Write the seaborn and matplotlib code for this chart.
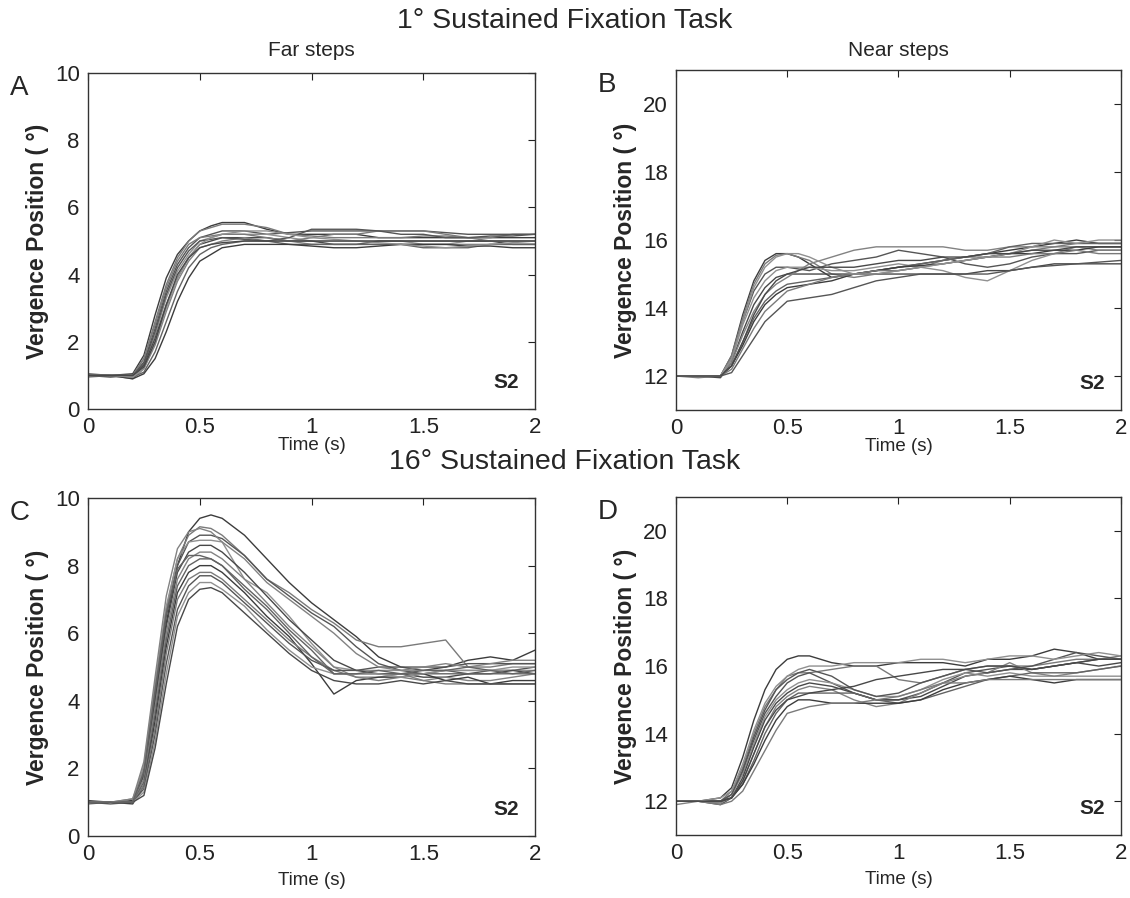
import pandas as pd
import seaborn as sns
import matplotlib.pyplot as plt

# time samples (s) used for every trace
time_s = [0, 0.1, 0.2, 0.25, 0.3, 0.35, 0.4, 0.45, 0.5, 0.55, 0.6, 0.7, 0.8, 0.9,
          1.0, 1.1, 1.2, 1.3, 1.4, 1.5, 1.6, 1.7, 1.8, 1.9, 2.0]

# A: 1 deg task, far steps
far_1deg = [
    [1.0, 1.0, 1.05, 1.6, 2.8, 3.9, 4.6, 5.0, 5.3, 5.45, 5.55, 5.55, 5.35, 5.2, 5.2, 5.2, 5.2, 5.1, 5.1, 5.1, 5.1, 5.1, 5.1, 5.1, 5.1],
    [1.0, 1.0, 1.0, 1.5, 2.6, 3.7, 4.5, 5.0, 5.3, 5.4, 5.5, 5.5, 5.4, 5.2, 5.15, 5.1, 5.1, 5.1, 5.1, 5.15, 5.15, 5.1, 5.1, 5.2, 5.2],
    [1.05, 1.0, 1.0, 1.4, 2.4, 3.5, 4.3, 4.8, 5.1, 5.2, 5.3, 5.3, 5.2, 5.25, 5.3, 5.3, 5.3, 5.3, 5.3, 5.3, 5.25, 5.2, 5.2, 5.2, 5.2],
    [1.0, 1.0, 0.95, 1.3, 2.2, 3.3, 4.1, 4.6, 5.0, 5.1, 5.2, 5.2, 5.2, 5.1, 5.0, 5.0, 5.0, 5.0, 5.0, 4.9, 4.9, 5.0, 5.0, 5.0, 5.0],
    [1.0, 1.0, 1.0, 1.3, 2.1, 3.1, 3.9, 4.5, 4.9, 5.0, 5.1, 5.1, 5.1, 5.0, 5.0, 4.9, 4.9, 5.0, 5.0, 5.0, 5.0, 5.0, 5.0, 4.9, 4.9],
    [0.95, 1.0, 0.9, 1.2, 1.9, 2.9, 3.8, 4.4, 4.8, 4.9, 5.0, 5.1, 5.0, 5.0, 4.9, 4.9, 4.9, 4.9, 4.9, 4.9, 4.9, 4.9, 4.9, 4.9, 4.9],
    [1.0, 1.0, 0.95, 1.1, 1.7, 2.6, 3.5, 4.2, 4.6, 4.8, 4.9, 5.0, 5.0, 4.9, 4.9, 4.9, 4.9, 4.9, 4.9, 4.8, 4.8, 4.8, 4.9, 4.9, 4.9],
    [1.0, 1.0, 0.9, 1.05, 1.5, 2.3, 3.2, 3.9, 4.4, 4.6, 4.8, 4.9, 4.9, 4.9, 4.85, 4.8, 4.8, 4.85, 4.9, 4.9, 4.9, 4.85, 4.85, 4.8, 4.8],
    [1.0, 1.0, 1.0, 1.5, 2.5, 3.6, 4.4, 4.9, 5.1, 5.15, 5.2, 5.2, 5.1, 5.0, 5.1, 5.2, 5.2, 5.3, 5.3, 5.3, 5.2, 5.1, 5.0, 5.0, 5.0],
    [1.0, 0.95, 1.0, 1.35, 2.3, 3.4, 4.2, 4.7, 5.0, 5.05, 5.1, 5.05, 5.0, 5.1, 5.35, 5.35, 5.35, 5.3, 5.2, 5.2, 5.1, 5.1, 5.15, 5.15, 5.2],
    [1.0, 1.0, 0.95, 1.2, 2.0, 3.0, 3.9, 4.5, 4.9, 5.1, 5.2, 5.3, 5.3, 5.2, 5.1, 5.05, 5.0, 4.95, 4.9, 4.85, 4.8, 4.85, 4.9, 4.95, 5.0],
    [1.0, 1.0, 1.0, 1.25, 2.0, 3.1, 4.0, 4.5, 4.8, 4.9, 4.95, 5.0, 5.0, 5.0, 5.0, 5.0, 5.0, 5.0, 5.0, 5.0, 5.0, 5.0, 5.0, 5.0, 5.0],
]

# B: 1 deg task, near steps
near_1deg = [
    [12, 12, 12, 12.6, 13.8, 14.8, 15.4, 15.6, 15.6, 15.5, 15.3, 14.9, 15.0, 15.1, 15.2, 15.3, 15.4, 15.5, 15.6, 15.7, 15.8, 15.9, 16.0, 15.9, 15.9],
    [12, 11.95, 12, 12.6, 13.7, 14.7, 15.3, 15.55, 15.6, 15.5, 15.4, 15.0, 14.9, 15.0, 15.1, 15.2, 15.4, 15.5, 15.5, 15.6, 15.7, 15.8, 15.9, 15.9, 15.9],
    [12, 12, 12, 12.5, 13.6, 14.5, 15.0, 15.2, 15.2, 15.15, 15.1, 15.3, 15.4, 15.5, 15.7, 15.6, 15.5, 15.3, 15.2, 15.3, 15.5, 15.6, 15.6, 15.7, 15.7],
    [12, 12, 12, 12.5, 13.5, 14.3, 14.8, 15.1, 15.2, 15.2, 15.2, 15.1, 15.1, 15.2, 15.3, 15.2, 15.1, 14.9, 14.8, 15.1, 15.4, 15.6, 15.8, 15.8, 15.8],
    [12, 12, 11.95, 12.4, 13.3, 14.1, 14.6, 14.9, 15.0, 15.0, 15.0, 15.0, 15.0, 15.0, 15.0, 15.0, 15.0, 15.0, 15.1, 15.1, 15.2, 15.3, 15.3, 15.3, 15.3],
    [12, 12, 12, 12.4, 13.2, 13.9, 14.4, 14.7, 14.9, 15.1, 15.3, 15.5, 15.7, 15.8, 15.8, 15.8, 15.8, 15.7, 15.7, 15.8, 15.8, 15.8, 15.8, 15.7, 15.7],
    [12, 12, 12, 12.3, 13.0, 13.7, 14.2, 14.5, 14.7, 14.75, 14.8, 14.9, 15.0, 15.1, 15.2, 15.3, 15.4, 15.5, 15.6, 15.8, 15.9, 15.9, 15.9, 15.9, 15.9],
    [12, 12, 12, 12.3, 12.9, 13.6, 14.1, 14.4, 14.6, 14.65, 14.7, 14.8, 15.0, 15.1, 15.2, 15.25, 15.3, 15.4, 15.5, 15.6, 15.6, 15.7, 15.7, 15.8, 15.8],
    [12, 12, 12, 12.2, 12.8, 13.4, 13.9, 14.2, 14.5, 14.6, 14.7, 14.9, 15.0, 15.1, 15.1, 15.2, 15.3, 15.4, 15.5, 15.5, 15.6, 15.6, 15.7, 15.6, 15.6],
    [12, 12, 12, 12.1, 12.6, 13.1, 13.6, 13.9, 14.2, 14.25, 14.3, 14.4, 14.6, 14.8, 14.9, 15.0, 15.0, 15.0, 15.0, 15.1, 15.2, 15.25, 15.3, 15.35, 15.4],
    [12, 12, 12, 12.5, 13.6, 14.6, 15.2, 15.5, 15.6, 15.6, 15.5, 15.2, 15.0, 15.0, 15.1, 15.2, 15.3, 15.4, 15.5, 15.6, 15.8, 16.0, 15.9, 16.0, 16.0],
    [12, 12, 12, 12.3, 13.0, 13.8, 14.4, 14.8, 15.0, 15.1, 15.2, 15.2, 15.2, 15.3, 15.4, 15.4, 15.5, 15.5, 15.6, 15.6, 15.7, 15.7, 15.8, 15.8, 15.8],
]

# C: 16 deg task, far steps
far_16deg = [
    [1.0, 1.0, 1.05, 1.8, 4.0, 6.3, 8.0, 9.0, 9.4, 9.5, 9.4, 8.9, 8.2, 7.5, 6.9, 6.4, 5.9, 5.3, 5.0, 4.9, 5.0, 5.2, 5.3, 5.2, 5.5],
    [1.0, 1.0, 1.1, 2.0, 4.4, 6.7, 8.2, 8.9, 9.15, 9.1, 8.9, 8.3, 7.6, 7.2, 6.7, 6.3, 5.8, 5.6, 5.6, 5.7, 5.8, 5.0, 5.0, 5.1, 5.1],
    [1.0, 1.0, 1.0, 1.9, 4.2, 6.5, 8.0, 8.7, 8.9, 8.9, 8.8, 8.3, 7.6, 7.1, 6.6, 6.2, 5.6, 5.1, 4.9, 4.8, 4.9, 4.8, 4.9, 4.9, 5.0],
    [1.0, 1.0, 1.0, 2.1, 4.5, 6.8, 8.2, 8.7, 8.75, 8.75, 8.7, 7.6, 7.2, 6.5, 5.7, 5.0, 4.9, 4.9, 4.9, 4.9, 4.9, 4.9, 4.9, 4.9, 4.9],
    [1.05, 1.0, 1.0, 1.8, 4.0, 6.2, 7.8, 8.4, 8.6, 8.6, 8.4, 7.8, 7.1, 6.4, 5.8, 5.2, 4.9, 4.8, 4.8, 4.7, 4.7, 4.8, 4.8, 4.9, 4.8],
    [1.0, 1.0, 1.0, 1.7, 3.8, 6.0, 7.6, 8.2, 8.4, 8.4, 8.2, 7.6, 6.9, 6.2, 5.6, 5.0, 4.7, 4.7, 4.8, 4.6, 4.7, 4.6, 4.6, 4.7, 4.8],
    [0.95, 1.0, 1.0, 1.6, 3.6, 5.8, 7.4, 8.0, 8.2, 8.2, 8.0, 7.4, 6.8, 6.1, 5.5, 4.8, 4.8, 4.8, 4.8, 4.8, 4.8, 4.8, 4.8, 4.8, 4.8],
    [1.0, 1.0, 0.95, 1.5, 3.4, 5.6, 7.2, 7.8, 8.0, 8.0, 7.8, 7.2, 6.5, 5.9, 5.1, 4.2, 4.6, 4.7, 4.7, 4.8, 4.6, 4.7, 4.5, 4.6, 4.6],
    [1.0, 1.0, 1.0, 1.5, 3.2, 5.4, 7.0, 7.6, 7.8, 7.8, 7.6, 7.0, 6.4, 5.8, 5.3, 4.9, 4.7, 4.6, 4.7, 4.6, 4.5, 4.5, 4.5, 4.5, 4.5],
    [1.0, 0.95, 1.0, 1.4, 3.0, 5.1, 6.7, 7.4, 7.7, 7.7, 7.5, 6.9, 6.3, 5.7, 5.2, 4.9, 4.9, 5.0, 5.0, 5.0, 5.0, 5.1, 5.1, 5.1, 5.1],
    [1.0, 1.0, 1.0, 1.3, 2.8, 4.8, 6.5, 7.2, 7.5, 7.5, 7.3, 6.8, 6.1, 5.5, 5.0, 4.8, 4.8, 4.8, 4.7, 4.8, 4.9, 4.9, 4.9, 5.0, 5.0],
    [1.0, 1.0, 1.0, 1.2, 2.6, 4.5, 6.2, 7.0, 7.3, 7.35, 7.2, 6.6, 6.0, 5.4, 4.9, 4.6, 4.5, 4.5, 4.6, 4.5, 4.6, 4.5, 4.5, 4.5, 4.5],
    [1.0, 1.0, 1.1, 2.2, 4.7, 7.1, 8.5, 9.0, 9.1, 9.0, 8.7, 8.2, 7.5, 7.0, 6.5, 6.0, 5.4, 5.0, 4.9, 5.0, 5.1, 5.0, 5.1, 5.2, 5.2],
    [1.0, 1.0, 1.0, 1.9, 4.3, 6.6, 7.9, 8.3, 8.3, 8.2, 8.0, 7.3, 6.7, 6.0, 5.3, 4.8, 4.8, 4.9, 4.8, 4.9, 4.9, 5.0, 4.9, 4.8, 4.9],
]

# D: 16 deg task, near steps
near_16deg = [
    [12, 12, 12.1, 12.4, 13.3, 14.4, 15.3, 15.9, 16.2, 16.3, 16.3, 16.1, 16.0, 16.0, 16.1, 16.1, 16.1, 16.0, 16.2, 16.2, 16.3, 16.5, 16.4, 16.2, 16.2],
    [12, 12, 12.0, 12.3, 13.0, 14.0, 14.8, 15.3, 15.7, 15.8, 15.8, 15.9, 16.0, 16.0, 15.6, 15.5, 15.7, 15.9, 16.0, 16.0, 16.0, 16.1, 16.2, 16.2, 16.3],
    [12, 12, 12.0, 12.2, 12.9, 13.8, 14.6, 15.1, 15.5, 15.7, 15.8, 15.5, 15.2, 15.0, 15.0, 15.2, 15.5, 15.8, 15.9, 16.0, 15.9, 16.0, 16.1, 16.2, 16.2],
    [12, 12, 11.95, 12.2, 12.8, 13.7, 14.5, 15.0, 15.3, 15.5, 15.6, 15.5, 15.3, 15.1, 15.1, 15.3, 15.6, 15.8, 15.7, 15.8, 15.7, 15.7, 15.7, 15.7, 15.7],
    [12, 12, 11.9, 12.1, 12.7, 13.6, 14.4, 14.9, 15.2, 15.4, 15.5, 15.4, 15.2, 15.0, 15.0, 15.1, 15.4, 15.7, 15.8, 15.9, 15.9, 16.0, 16.1, 16.0, 16.1],
    [11.9, 12, 11.95, 12.1, 12.6, 13.4, 14.2, 14.8, 15.1, 15.3, 15.4, 15.3, 15.0, 14.8, 14.9, 15.2, 15.5, 15.7, 15.8, 16.1, 15.8, 15.7, 15.8, 15.9, 16.0],
    [12, 12, 12, 12.1, 12.5, 13.2, 14.0, 14.6, 15.0, 15.2, 15.2, 15.2, 15.2, 15.0, 14.9, 15.0, 15.2, 15.4, 15.6, 15.7, 15.8, 15.8, 15.8, 15.9, 16.0],
    [12, 12, 12, 12.1, 12.5, 13.1, 13.8, 14.4, 14.8, 15.0, 15.0, 14.9, 14.9, 14.9, 14.9, 15.0, 15.3, 15.5, 15.6, 15.7, 15.6, 15.5, 15.6, 15.6, 15.6],
    [12, 12, 11.9, 12.0, 12.3, 12.9, 13.5, 14.1, 14.6, 14.7, 14.8, 14.9, 14.9, 15.0, 15.1, 15.3, 15.5, 15.5, 15.6, 15.6, 15.6, 15.6, 15.6, 15.6, 15.6],
    [12, 12, 12, 12.2, 12.9, 13.9, 14.7, 15.3, 15.6, 15.8, 15.9, 15.7, 15.3, 15.1, 15.2, 15.5, 15.7, 15.9, 15.8, 15.9, 16.0, 16.2, 16.4, 16.3, 16.2],
    [12, 12, 12.1, 12.3, 13.1, 14.1, 14.9, 15.4, 15.7, 15.9, 16.0, 16.0, 16.1, 16.1, 16.1, 16.2, 16.2, 16.1, 16.2, 16.3, 16.3, 16.2, 16.3, 16.4, 16.3],
    [12, 12, 12, 12.1, 12.6, 13.4, 14.2, 14.7, 15.0, 15.1, 15.2, 15.3, 15.4, 15.6, 15.7, 15.8, 15.9, 15.9, 16.0, 16.0, 15.9, 16.0, 16.1, 16.2, 16.2],
]

gray_shades = ["#3c3c3c", "#7a7a7a", "#555555", "#909090", "#484848", "#828282", "#636363"]

sns.set_style("white")
plt.rcParams['font.family'] = ['Liberation Sans', 'DejaVu Sans']


def to_long(traces):
    rows = []
    for i, tr in enumerate(traces):
        for t, v in zip(time_s, tr):
            rows.append({"trace": i, "t": t, "v": v})
    return pd.DataFrame(rows)


def draw_panel(ax, traces, ylim, yticks, letter, top_row):
    df = to_long(traces)
    pal = [gray_shades[i % len(gray_shades)] for i in range(len(traces))]
    sns.lineplot(data=df, x="t", y="v", hue="trace", units="trace", estimator=None,
                 palette=pal, linewidth=1.0, legend=False, ax=ax)
    ax.set_xlim(0, 2)
    ax.set_ylim(*ylim)
    ax.set_xticks([0, 0.5, 1, 1.5, 2])
    ax.set_xticklabels(["0", "0.5", "1", "1.5", "2"])
    ax.set_yticks(yticks)
    ax.tick_params(direction="in", length=5, width=0.8, top=True, right=True,
                   labelsize=16, pad=6, colors="#222222")
    for s in ax.spines.values():
        s.set_color("#333333")
        s.set_linewidth(1.0)
    ax.set_ylabel("Vergence Position ( °)", fontsize=16.5, fontweight="bold", labelpad=4)
    ax.set_xlabel("Time (s)", fontsize=13.5, labelpad=-1 if top_row else 5)
    ax.text(0.965, 0.05, "S2", transform=ax.transAxes, ha="right", va="bottom",
            fontsize=15, fontweight="bold")
    ax.text(-0.175, 0.955, letter, transform=ax.transAxes, ha="left", va="center",
            fontsize=20)


fig = plt.figure(figsize=(11.3, 8.98), dpi=100)
ax_a = fig.add_axes([0.0779, 0.5445, 0.3956, 0.3742])
ax_b = fig.add_axes([0.5982, 0.5434, 0.3938, 0.3786])
ax_c = fig.add_axes([0.0779, 0.0690, 0.3956, 0.3764])
ax_d = fig.add_axes([0.5982, 0.0701, 0.3938, 0.3764])

draw_panel(ax_a, far_1deg, (0, 10), [0, 2, 4, 6, 8, 10], "A", True)
draw_panel(ax_b, near_1deg, (11, 21), [12, 14, 16, 18, 20], "B", True)
draw_panel(ax_c, far_16deg, (0, 10), [0, 2, 4, 6, 8, 10], "C", False)
draw_panel(ax_d, near_16deg, (11, 21), [12, 14, 16, 18, 20], "D", False)

fig.text(0.5, 0.977, "1° Sustained Fixation Task", ha="center", va="center", fontsize=20.5)
fig.text(0.5, 0.486, "16° Sustained Fixation Task", ha="center", va="center", fontsize=20.5)
fig.text(0.2757, 0.944, "Far steps", ha="center", va="center", fontsize=15)
fig.text(0.7951, 0.944, "Near steps", ha="center", va="center", fontsize=15)

plt.savefig("out.png", dpi=100)
